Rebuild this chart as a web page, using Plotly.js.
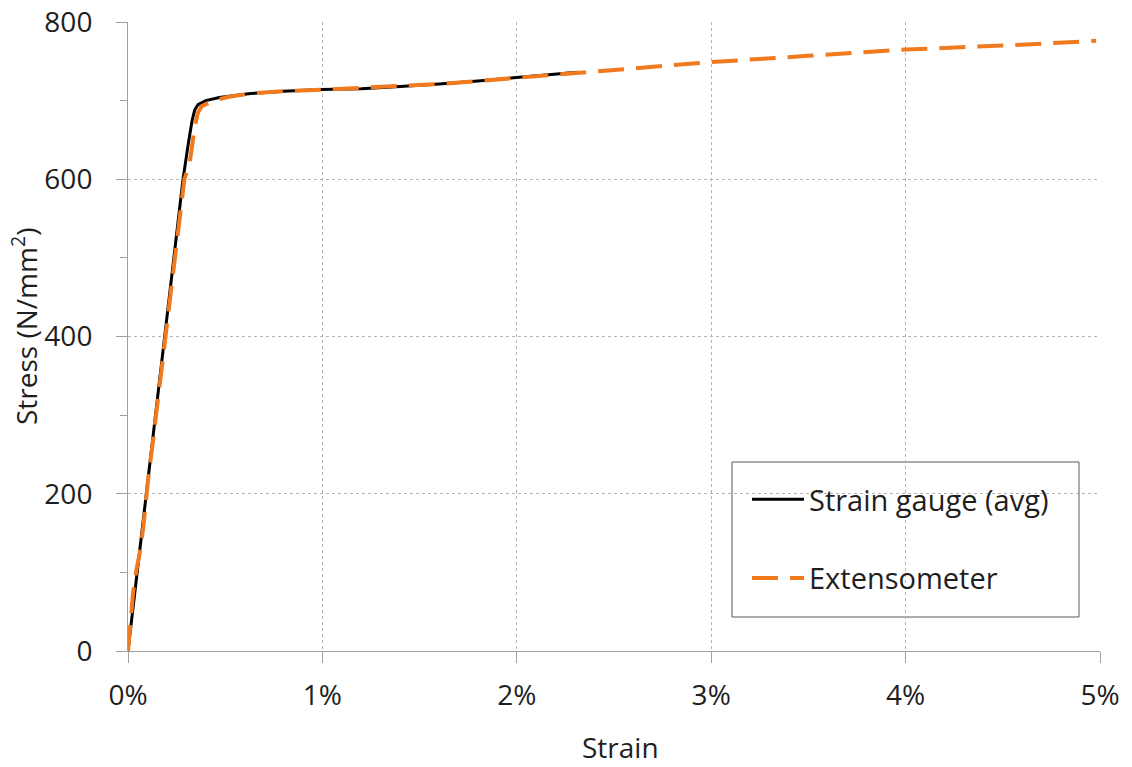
<!DOCTYPE html>
<html>
<head>
<meta charset="utf-8">
<script src="https://cdn.plot.ly/plotly-3.0.1.min.js"></script>
<style>html,body{margin:0;padding:0;background:#fff;}#chart{width:1132px;height:767px;}</style>
</head>
<body>
<div id="chart"></div>
<script>
// Strain in %, stress in N/mm²
const gaugeStrain = [0, 0.095, 0.19, 0.283, 0.31, 0.33, 0.343, 0.36, 0.40, 0.47, 0.63, 0.80, 0.99, 1.20, 1.40, 1.60, 1.80, 2.00, 2.31];
const gaugeStress = [0, 200, 400, 600, 645, 675, 688, 695, 700, 704, 709, 712, 714, 715, 718, 721, 725, 729, 736];

const extStrain = [0, 0.009, 0.026, 0.043, 0.06, 0.079, 0.103, 0.129, 0.146, 0.19, 0.23, 0.26, 0.29, 0.317, 0.343, 0.36, 0.38, 0.44, 0.52, 0.63, 0.80, 1.00, 1.20, 1.40, 1.60, 1.80, 2.00, 2.30, 2.60, 3.00, 3.50, 4.00, 4.50, 4.98];
const extStress = [0, 30, 74, 103, 124, 158, 217, 268, 302, 390, 470, 540, 600, 620, 666, 685, 693, 700, 705, 709, 712, 714, 716, 718, 721, 725, 729, 735, 741, 749, 757, 765, 770, 776];

const xTicks = [0, 1, 2, 3, 4, 5];
const yTicks = [0, 200, 400, 600, 800];

const seriesNames = ['Strain gauge (avg)', 'Extensometer'];
const xTitle = 'Strain';
const yTitle = 'Stress (N/mm<sup>2</sup>)';

const fontFam = '"Open Sans", "Noto Sans", sans-serif';
const txtColor = '#1e1e1e';
const axisColor = '#a0a0a0';

const traces = [
  {x: gaugeStrain, y: gaugeStress, name: seriesNames[0], mode: 'lines', legendgroup: 'a',
   line: {color: '#000000', width: 3}},
  {x: extStrain, y: extStress, name: seriesNames[1], mode: 'lines', legendgroup: 'b',
   line: {color: '#f27a1e', width: 4, dash: '26px,12px'}}
];

// plot area in pixels: x 128..1100, y 22..651
const PW = 972, PH = 629;
const px = v => (v - 128) / PW;
const py = v => (651 - v) / PH;

const layout = {
  width: 1132, height: 767,
  margin: {l: 128, r: 32, t: 22, b: 116},
  paper_bgcolor: '#ffffff', plot_bgcolor: '#ffffff',
  font: {family: fontFam, size: 28, color: txtColor},
  showlegend: true,
  legend: {
    x: px(747), y: py(474), xanchor: 'left', yanchor: 'top',
    borderwidth: 0, bgcolor: 'rgba(0,0,0,0)',
    font: {family: fontFam, size: 29, color: txtColor},
    traceorder: 'grouped', tracegroupgap: 38,
    itemwidth: 52
  },
  shapes: [
    {type: 'rect', xref: 'paper', yref: 'paper', x0: px(732), x1: px(1079), y0: py(617), y1: py(462),
     line: {color: '#595959', width: 1}, fillcolor: '#ffffff', layer: 'below'}
  ],
  xaxis: {
    range: [0, 5], tickvals: xTicks, ticktext: xTicks.map(v => v + '%'),
    showline: true, linecolor: axisColor, linewidth: 1,
    ticks: 'outside', ticklen: 11, tickcolor: axisColor, tickwidth: 1,
    showgrid: true, gridcolor: '#b4b4b4', griddash: 'dot', gridwidth: 1,
    zeroline: false, ticklabelstandoff: 8,
    tickfont: {family: fontFam, size: 28, color: txtColor}
  },
  yaxis: {
    range: [0, 800], tickvals: yTicks,
    showline: true, linecolor: axisColor, linewidth: 1,
    ticks: 'outside', ticklen: 11, tickcolor: axisColor, tickwidth: 1,
    minor: {dtick: 100, tick0: 0, ticks: 'outside', ticklen: 7, tickcolor: axisColor, showgrid: false},
    showgrid: true, gridcolor: '#b4b4b4', griddash: 'dot', gridwidth: 1,
    zeroline: false, ticklabelstandoff: 18,
    tickfont: {family: fontFam, size: 28, color: txtColor}
  },
  annotations: [
    {text: xTitle, xref: 'paper', yref: 'paper', x: px(620), y: py(747), xanchor: 'center', yanchor: 'middle',
     showarrow: false, font: {family: fontFam, size: 28, color: txtColor}},
    {text: yTitle, xref: 'paper', yref: 'paper', x: px(24), y: py(327), xanchor: 'center', yanchor: 'middle',
     textangle: -90, showarrow: false, font: {family: fontFam, size: 28, color: txtColor}}
  ]
};

Plotly.newPlot('chart', traces, layout, {displayModeBar: false, staticPlot: true});
</script>
</body>
</html>
